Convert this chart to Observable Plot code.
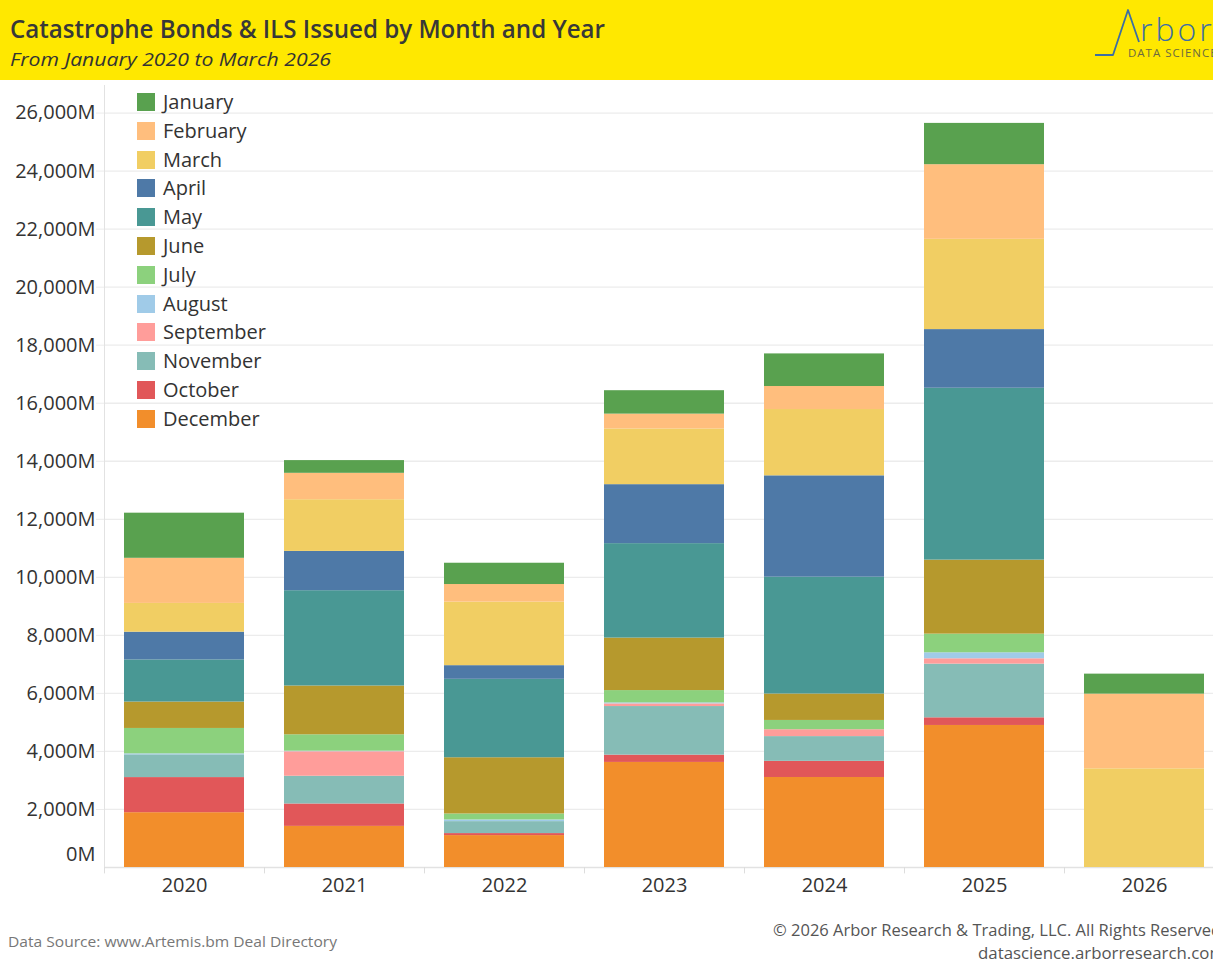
<!DOCTYPE html>
<html>
<head>
<meta charset="utf-8">
<script src="https://cdn.jsdelivr.net/npm/d3@7"></script>
<script src="https://cdn.jsdelivr.net/npm/@observablehq/plot@0.6"></script>
<style>
  html, body { margin: 0; padding: 0; background: #fff; overflow: hidden; width: 1213px; height: 963px; }
  #page { position: relative; width: 1213px; height: 963px; overflow: hidden; font-family: "Open Sans", sans-serif; color: #333; }
  #header { position: absolute; left: 0; top: 0; width: 1213px; height: 80px; background: #FFE800; overflow: hidden; }
  .fit { position: absolute; white-space: nowrap; transform-origin: 0 50%; line-height: 1; }
  #title { left: 10px; top: 16px; font-size: 25px; font-weight: 600; color: #383838; }
  #subtitle { left: 10px; top: 50px; font-size: 19px; font-style: italic; color: #333; }
  #chart { position: absolute; left: 0; top: 80px; width: 1224px; }
  #chart svg { max-width: none !important; }
  #legend { position: absolute; left: 137px; top: 0; }
  .lg { position: absolute; left: 0; height: 20px; white-space: nowrap; }
  .sw { position: absolute; left: 0; top: 1px; width: 18px; height: 18px; }
  .lt { position: absolute; left: 26px; top: -4px; font-size: 20px; line-height: 28px; color: #333; }
  #src { left: 8px; top: 934px; font-size: 15px; color: #777; }
  #copy { left: 773px; top: 922px; font-size: 16px; color: #555; }
  #url { left: 978px; top: 945px; font-size: 16px; color: #555; }
  #logo { position: absolute; left: 1080px; top: 0; }
</style>
</head>
<body>
<div id="page">
  <div id="header">
    <div id="title" class="fit">Catastrophe Bonds &amp; ILS Issued by Month and Year</div>
    <div id="subtitle" class="fit">From January 2020 to March 2026</div>
    <svg id="logo" width="140" height="80">
      <polyline points="15,55 33,55 48,10 59,42" fill="none" stroke="#3D6FA3" stroke-width="1.8" stroke-linejoin="round"/>
      <text x="60" y="41" font-family="Open Sans, sans-serif" font-weight="300" font-size="32" letter-spacing="3" fill="#3D6FA3">rbor</text>
      <text x="48" y="57" font-family="Open Sans, sans-serif" font-size="11.5" fill="#6b6a40" letter-spacing="1">DATA SCIENCE</text>
    </svg>
  </div>
  <div id="chart"></div>
  <div id="legend"></div>
  <div id="src" class="fit">Data Source: www.Artemis.bm Deal Directory</div>
  <div id="copy" class="fit">© 2026 Arbor Research &amp; Trading, LLC. All Rights Reserved</div>
  <div id="url" class="fit">datascience.arborresearch.com</div>
</div>
<script>
// ---- Data (millions USD) ----
const years = ["2020", "2021", "2022", "2023", "2024", "2025", "2026"];
const months = ["January", "February", "March", "April", "May", "June", "July", "August", "September", "November", "October", "December"];
const monthColors = ["#59A14F", "#FFBE7D", "#F1CE63", "#4E79A7", "#499894", "#B6992D", "#8CD17D", "#A0CBE8", "#FF9D9A", "#86BCB6", "#E15759", "#F28E2B"];
// stacking order, bottom to top
const stackOrder = ["December", "October", "November", "September", "August", "July", "June", "May", "April", "March", "February", "January"];

const january   = [1555,  438,  734,  807, 1124, 1423,  689];
const february  = [1555,  910,  607,  511,  793, 2572, 2574];
const march     = [ 991, 1781, 2189, 1920, 2285, 3111, 3401];
const april     = [ 956, 1355,  470, 2033, 3493, 2021,    0];
const may       = [1452, 3284, 2704, 3254, 4026, 5923,    0];
const june      = [ 910, 1682, 1937, 1810,  911, 2551,    0];
const july      = [ 875,  564,  206,  424,  320,  643,    0];
const august    = [  35,   20,   58,   35,    0,  207,    0];
const september = [   0,  844,    0,   91,  237,  184,    0];
const november  = [ 783,  956,  412, 1674,  852, 1850,    0];
const october   = [1210,  772,   69,  252,  557,  264,    0];
const december  = [1889, 1417, 1100, 3621, 3102, 4895,    0];

const yTicks = [0, 2000, 4000, 6000, 8000, 10000, 12000, 14000, 16000, 18000, 20000, 22000, 24000, 26000];

const series = {
  January: january, February: february, March: march, April: april, May: may, June: june,
  July: july, August: august, September: september, November: november, October: october, December: december
};

const rows = [];
for (const m of stackOrder) {
  series[m].forEach((v, i) => { if (v > 0) rows.push({year: years[i], month: m, value: v}); });
}

const fmt = d => d3.format(",")(d) + "M";
const FONT = "Open Sans, sans-serif";

const chart = Plot.plot({
  width: 1224,
  height: 840,
  marginLeft: 104,
  marginRight: 0,
  marginTop: 5,
  marginBottom: 53,
  style: {fontFamily: FONT, fontSize: "20px", color: "#333", background: "transparent", maxWidth: "none"},
  x: {domain: years, paddingInner: 0.25, paddingOuter: 0.125, label: null},
  y: {domain: [0, 26950], label: null},
  color: {domain: months, range: monthColors},
  marks: [
    Plot.ruleY(yTicks.slice(1), {stroke: "#ececec", strokeWidth: 1.3}),
    Plot.axisY({ticks: yTicks.slice(1), tickSize: 8, tickPadding: 1, stroke: "#ececec", fill: "#333", tickFormat: fmt, fontSize: 20, label: null}),
    Plot.text([0], {y: d => d, frameAnchor: "left", textAnchor: "end", dx: -9, dy: -13, text: d => fmt(d), fill: "#333", fontSize: 20}),
    Plot.frame({anchor: "left", stroke: "#e2e2e2"}),
    Plot.ruleY([0], {stroke: "#e2e2e2", strokeWidth: 1.3}),
    Plot.ruleX(years, {x: d => d, dx: -80, y1: 0, y2: -220, stroke: "#dddddd"}),
    Plot.barY(rows, {x: "year", y: "value", fill: "month"}),
    Plot.axisX({tickSize: 0, tickPadding: 10, fill: "#333", fontSize: 20, label: null})
  ]
});
chart.style.maxWidth = "none";
document.getElementById("chart").appendChild(chart);

// Legend (HTML overlay)
const legend = document.getElementById("legend");
months.forEach((m, i) => {
  const row = document.createElement("div");
  row.className = "lg";
  row.style.top = (92 + i * 28.8) + "px";
  const sw = document.createElement("div");
  sw.className = "sw";
  sw.style.background = monthColors[i];
  const t = document.createElement("div");
  t.className = "lt";
  t.textContent = m;
  row.appendChild(sw); row.appendChild(t);
  legend.appendChild(row);
});

function fit(id, target) {
  const el = document.getElementById(id);
  el.style.transform = "none";
  const w = el.getBoundingClientRect().width;
  el.style.transform = `scaleX(${target / w})`;
}
function fitAll() {
  fit("title", 595);
  fit("subtitle", 321);
  fit("src", 329);
  fit("copy", 448);
  fit("url", 247);
}
fitAll();
if (document.fonts && document.fonts.ready) document.fonts.ready.then(fitAll);
</script>
</body>
</html>
